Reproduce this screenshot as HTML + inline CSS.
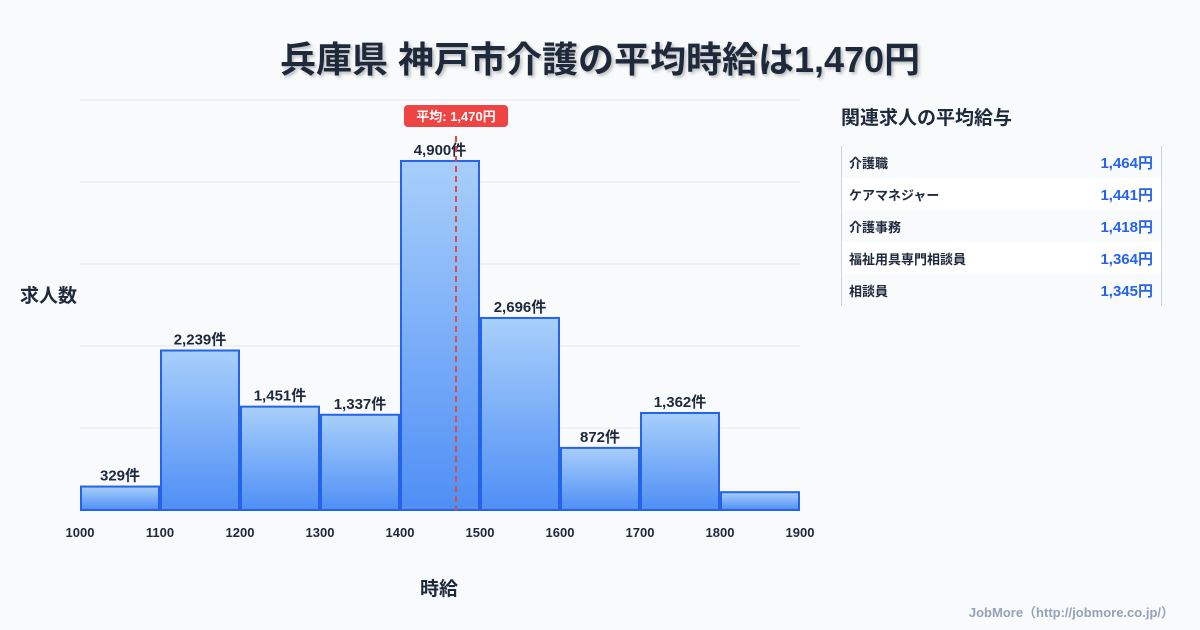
<!DOCTYPE html>
<html><head><meta charset="utf-8"><style>
body{margin:0;width:1200px;height:630px;background:#f8fafc;font-family:"Liberation Sans","Noto Sans CJK JP",sans-serif;overflow:hidden;position:relative;color:#1e293b}
.t{position:absolute;font-weight:bold}
#panel{position:absolute;left:841px;top:146px;width:319px;height:160px;border-left:1px solid #cbd5e1;border-right:1px solid #cbd5e1}
.row{height:32px;display:flex;justify-content:space-between;align-items:center;padding:0 8px 0 7px;font-size:13px;font-weight:bold}
.row:nth-child(even){background:#fff}
.row span:last-child{color:#2563eb;font-size:15px}
</style></head><body>
<div class="t" style="left:0;width:1200px;text-align:center;top:31px;font-size:36px;text-shadow:2px 2px 3px rgba(0,0,0,0.25)">兵庫県 神戸市介護の平均時給は1,470円</div>
<div class="t" style="left:20px;top:281px;font-size:19px">求人数</div>
<div class="t" style="left:420px;top:574px;font-size:19px">時給</div>
<div class="t" style="left:841px;top:103px;font-size:19px">関連求人の平均給与</div>
<div id="panel">
<div class="row"><span>介護職</span><span>1,464円</span></div>
<div class="row"><span>ケアマネジャー</span><span>1,441円</span></div>
<div class="row"><span>介護事務</span><span>1,418円</span></div>
<div class="row"><span>福祉用具専門相談員</span><span>1,364円</span></div>
<div class="row"><span>相談員</span><span>1,345円</span></div>
</div>
<div class="t" style="right:26px;top:602px;font-size:13px;color:#94a3b8">JobMore（http://jobmore.co.jp/）</div>
<svg id="c" width="1200" height="630" style="position:absolute;left:0;top:0">
<defs><linearGradient id="g" x1="0" y1="0" x2="0" y2="1"><stop offset="0" stop-color="#a8cffb"/><stop offset="1" stop-color="#4f8ff5"/></linearGradient></defs>
</svg>
<script>
const bins=[1000,1100,1200,1300,1400,1500,1600,1700,1800];
const counts=[329,2239,1451,1337,4900,2696,872,1362,250];
const labels=["329件","2,239件","1,451件","1,337件","4,900件","2,696件","872件","1,362件",""];
const xticks=[1000,1100,1200,1300,1400,1500,1600,1700,1800,1900];
const avg=1470;
const yMax=5756;
const svg=document.getElementById('c');const NS='http://www.w3.org/2000/svg';
const X=v=>80+(v-1000)*0.8, Y=v=>510-v/yMax*410;
function mk(t,a){const e=document.createElementNS(NS,t);for(const k in a)e.setAttribute(k,a[k]);svg.appendChild(e);return e;}
for(let i=0;i<=5;i++){const l=mk('line',{x1:80,x2:800,y1:510-i*82,y2:510-i*82,stroke:'#e2e8f0'});

}
bins.forEach((b,i)=>{const x0=X(b)+1,x1=X(b+100)-1,y=Y(counts[i]);
const r=mk('rect',{x:x0,y:y,width:x1-x0,height:510-y,fill:'url(#g)',stroke:'#2563eb','stroke-width':2});


if(labels[i]){const t=mk('text',{x:(x0+x1)/2,y:y-6,'text-anchor':'middle','font-size':15,'font-weight':'bold',fill:'#1e293b'});t.textContent=labels[i];

}
});
xticks.forEach(v=>{const t=mk('text',{x:X(v),y:537,'text-anchor':'middle','font-size':13,'font-weight':'bold',fill:'#1e293b'});t.textContent=v;

});
const ax=X(avg);
const al=mk('line',{x1:ax,x2:ax,y1:136,y2:510,stroke:'#dc4a4a','stroke-width':2,'stroke-dasharray':'6,4'});


const ar=mk('rect',{x:ax-52,y:105,width:104,height:22,rx:4,fill:'#ef4444'});


const at=mk('text',{x:ax,y:121,'text-anchor':'middle','font-size':13,'font-weight':'bold',fill:'#fff'});at.textContent='平均: 1,470円';


</script>
</body></html>
